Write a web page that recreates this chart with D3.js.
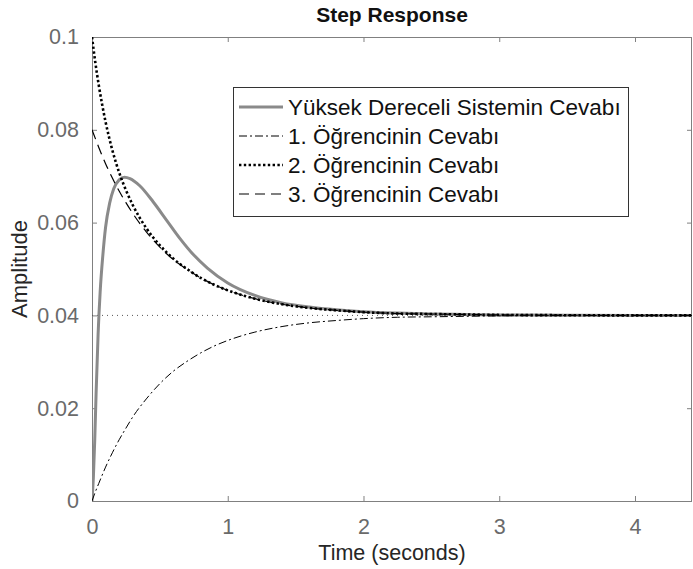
<!DOCTYPE html>
<html>
<head>
<meta charset="utf-8">
<script src="https://cdn.jsdelivr.net/npm/d3@7"></script>
<style>
  html, body { margin: 0; padding: 0; background: #fff; }
  svg { display: block; }
  text { font-family: "Liberation Sans", Arial, Helvetica, sans-serif; }
</style>
</head>
<body>
<div id="chart"></div>
<script>
// ---------------- data ----------------
const titleText = "Step Response";
const xLabel = "Time (seconds)";
const yLabel = "Amplitude";
const xTicks = [0, 1, 2, 3, 4];
const xTickLabels = ["0", "1", "2", "3", "4"];
const yTicks = [0, 0.02, 0.04, 0.06, 0.08, 0.1];
const yTickLabels = ["0", "0.02", "0.04", "0.06", "0.08", "0.1"];
const xMax = 4.42;
const steadyValue = 0.04;

const seriesNames = [
  "Yüksek Dereceli Sistemin Cevabı",
  "1. Öğrencinin Cevabı",
  "2. Öğrencinin Cevabı",
  "3. Öğrencinin Cevabı"
];

// high-order system response (gray)
const tHigh = [0, 0.01, 0.02, 0.03, 0.045, 0.06, 0.08, 0.1, 0.13, 0.16, 0.2, 0.24, 0.28, 0.35, 0.45, 0.55, 0.65, 0.75, 0.85, 1.0, 1.2, 1.4, 1.6, 1.8, 2.0, 2.25, 2.5, 2.75, 3.0, 3.5, 4.0, 4.42];
const yHigh = [0, 0.005, 0.013, 0.023, 0.036, 0.045, 0.053, 0.0590, 0.0642, 0.0673, 0.0692, 0.0698, 0.0695, 0.068, 0.0645, 0.0605, 0.0565, 0.053, 0.0502, 0.047, 0.0443, 0.0427, 0.0418, 0.0412, 0.0408, 0.0405, 0.0403, 0.0402, 0.0401, 0.04005, 0.04, 0.04];

// students' responses share one time grid
const tStud = [0, 0.025, 0.05, 0.1, 0.15, 0.2, 0.25, 0.3, 0.4, 0.5, 0.6, 0.7, 0.8, 0.9, 1.0, 1.2, 1.4, 1.6, 1.8, 2.0, 2.25, 2.5, 2.75, 3.0, 3.5, 4.0, 4.42];
const yStud1 = [0, 0.002, 0.0038, 0.0073, 0.0104, 0.0132, 0.0157, 0.0181, 0.022, 0.0253, 0.028, 0.0301, 0.0319, 0.0334, 0.0346, 0.0364, 0.0376, 0.0384, 0.0389, 0.0393, 0.0396, 0.0397, 0.0398, 0.0399, 0.03996, 0.04, 0.04];
const yStud2 = [0.1, 0.0944, 0.0896, 0.0817, 0.0756, 0.0708, 0.067, 0.0638, 0.0588, 0.0551, 0.0522, 0.05, 0.0481, 0.0466, 0.0454, 0.0436, 0.0424, 0.0416, 0.0411, 0.0407, 0.0404, 0.0403, 0.0402, 0.0401, 0.04004, 0.04, 0.04];
const yStud3 = [0.08, 0.0781, 0.0762, 0.0727, 0.0696, 0.0668, 0.0643, 0.062, 0.058, 0.0547, 0.052, 0.0499, 0.0481, 0.0466, 0.0454, 0.0436, 0.0424, 0.0416, 0.0411, 0.0407, 0.0404, 0.0403, 0.0402, 0.0401, 0.04004, 0.04, 0.04];

// ---------------- layout ----------------
const W = 693, H = 569;
const M = { left: 92, right: 692, top: 37, bottom: 501 };
const FS = 21.5;

const svg = d3.select("#chart").append("svg")
  .attr("width", W).attr("height", H)
  .attr("viewBox", `0 0 ${W} ${H}`);
svg.append("rect").attr("width", W).attr("height", H).attr("fill", "#fff");

const x = d3.scaleLinear().domain([0, xMax]).range([M.left, M.right]);
const y = d3.scaleLinear().domain([0, 0.1]).range([M.bottom, M.top]);

const axisColor = "#808080";
const tickTextColor = "#6a6a6a";

// clip
svg.append("defs").append("clipPath").attr("id", "plotclip")
  .append("rect").attr("x", M.left).attr("y", M.top)
  .attr("width", M.right - M.left).attr("height", M.bottom - M.top);

// axes
function styleAxis(g, showText) {
  g.select(".domain").remove();
  g.selectAll(".tick line").attr("stroke", axisColor).attr("stroke-width", 1);
  g.selectAll(".tick text")
    .attr("fill", tickTextColor)
    .style("font-size", FS + "px")
    .style("font-family", '"Liberation Sans", Arial, sans-serif')
    .style("display", showText ? null : "none");
}

svg.append("g").attr("transform", `translate(0,${M.bottom})`)
  .call(d3.axisBottom(x).tickValues(xTicks).tickFormat((d, i) => xTickLabels[i]).tickSize(-5).tickPadding(18))
  .call(g => styleAxis(g, true));
svg.append("g").attr("transform", `translate(0,${M.top})`)
  .call(d3.axisTop(x).tickValues(xTicks).tickSize(-5))
  .call(g => styleAxis(g, false));
svg.append("g").attr("transform", `translate(${M.left},0)`)
  .call(d3.axisLeft(y).tickValues(yTicks).tickFormat((d, i) => yTickLabels[i]).tickSize(-5).tickPadding(13))
  .call(g => styleAxis(g, true));
svg.append("g").attr("transform", `translate(${M.right},0)`)
  .call(d3.axisRight(y).tickValues(yTicks).tickSize(-5))
  .call(g => styleAxis(g, false));

// box
svg.append("rect")
  .attr("x", M.left + 0.5).attr("y", M.top + 0.5)
  .attr("width", M.right - M.left - 1).attr("height", M.bottom - M.top)
  .attr("fill", "none").attr("stroke", axisColor).attr("stroke-width", 1);

// steady-state reference line
const plot = svg.append("g").attr("clip-path", "url(#plotclip)");
plot.append("line")
  .attr("x1", x(0)).attr("x2", x(xMax))
  .attr("y1", y(steadyValue)).attr("y2", y(steadyValue))
  .attr("stroke", "#555").attr("stroke-width", 1)
  .attr("stroke-dasharray", "1,4");

const line = d3.line().x(d => x(d[0])).y(d => y(d[1])).curve(d3.curveMonotoneX);
const zip = (a, b) => a.map((v, i) => [v, b[i]]);

const styles = [
  { stroke: "#8a8a8a", width: 3, dash: null },
  { stroke: "#000", width: 1, dash: "8,3,2,3" },
  { stroke: "#000", width: 2.6, dash: "2.4,2.4" },
  { stroke: "#000", width: 1.2, dash: "10,6" }
];
const seriesData = [zip(tHigh, yHigh), zip(tStud, yStud1), zip(tStud, yStud2), zip(tStud, yStud3)];

[0, 1, 3, 2].forEach(i => {
  plot.append("path")
    .attr("d", line(seriesData[i]))
    .attr("fill", "none")
    .attr("stroke", styles[i].stroke)
    .attr("stroke-width", styles[i].width)
    .attr("stroke-dasharray", styles[i].dash)
    .attr("stroke-linejoin", "round");
});

// title & labels
svg.append("text")
  .attr("x", (M.left + M.right) / 2).attr("y", 22)
  .attr("text-anchor", "middle")
  .attr("font-weight", "bold")
  .style("font-size", "21px")
  .attr("fill", "#111")
  .text(titleText);

svg.append("text")
  .attr("x", (M.left + M.right) / 2).attr("y", 560)
  .attr("text-anchor", "middle")
  .style("font-size", FS + "px")
  .attr("fill", "#262626")
  .text(xLabel);

svg.append("text")
  .attr("transform", `translate(27,${(M.top + M.bottom) / 2}) rotate(-90)`)
  .attr("text-anchor", "middle")
  .style("font-size", "22px")
  .attr("fill", "#262626")
  .text(yLabel);

// legend
const lg = svg.append("g");
const LX = 233, LY = 87, LW = 395, LH = 129, rowH = 29, row0 = 107;
lg.append("rect").attr("x", LX + 0.5).attr("y", LY + 0.5).attr("width", LW).attr("height", LH)
  .attr("fill", "#fff").attr("stroke", "#333").attr("stroke-width", 1);
seriesNames.forEach((name, i) => {
  const cy = row0 + i * rowH;
  lg.append("line")
    .attr("x1", 239).attr("x2", 283).attr("y1", cy).attr("y2", cy)
    .attr("stroke", styles[i].stroke)
    .attr("stroke-width", styles[i].width)
    .attr("stroke-dasharray", styles[i].dash);
  lg.append("text")
    .attr("x", 288).attr("y", cy)
    .attr("dy", "0.35em")
    .style("font-size", "22.5px")
    .attr("fill", "#111")
    .text(name);
});
</script>
</body>
</html>
